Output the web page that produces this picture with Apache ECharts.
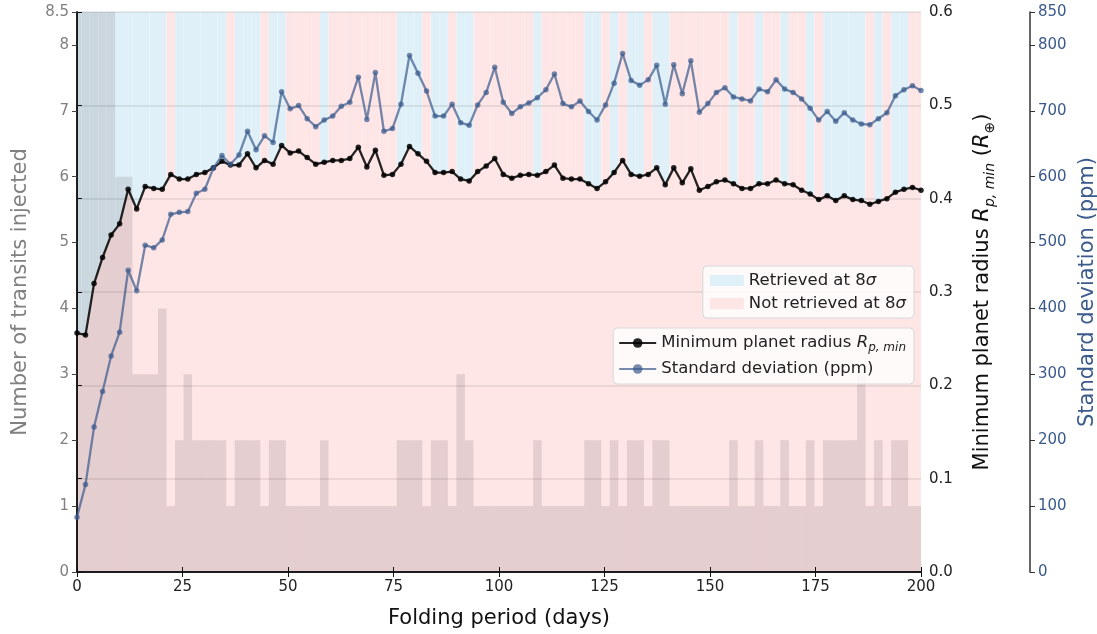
<!DOCTYPE html>
<html>
<head>
<meta charset="utf-8">
<script src="https://cdn.jsdelivr.net/npm/echarts@6/dist/echarts.min.js"></script>
<style>
  html, body { margin: 0; padding: 0; background: #fff; }
  #chart { width: 1097px; height: 634px; }
</style>
</head>
<body>
<div id="chart"></div>
<script>
// folding periods: 100 evenly spaced trial periods from 0 to 200 days
const periods = Array.from({length: 100}, (_, i) => i * 200 / 99);
const binWidth = 200 / 99;

// minimum planet radius (R_earth) per period
const radius = [
  0.256, 0.254, 0.309, 0.337, 0.361, 0.373, 0.410, 0.389, 0.413, 0.411,
  0.410, 0.426, 0.421, 0.421, 0.426, 0.428, 0.433, 0.440, 0.436, 0.436,
  0.448, 0.433, 0.441, 0.437, 0.457, 0.449, 0.451, 0.444, 0.437, 0.439,
  0.441, 0.441, 0.443, 0.455, 0.434, 0.452, 0.425, 0.426, 0.437, 0.456,
  0.448, 0.440, 0.428, 0.428, 0.429, 0.421, 0.419, 0.429, 0.435, 0.443,
  0.426, 0.422, 0.425, 0.426, 0.425, 0.429, 0.436, 0.422, 0.421, 0.421,
  0.416, 0.411, 0.418, 0.428, 0.441, 0.426, 0.424, 0.426, 0.433, 0.415,
  0.433, 0.417, 0.432, 0.409, 0.413, 0.418, 0.420, 0.416, 0.411, 0.411,
  0.416, 0.416, 0.420, 0.416, 0.415, 0.409, 0.405, 0.399, 0.403, 0.398,
  0.403, 0.399, 0.398, 0.394, 0.397, 0.400, 0.407, 0.410, 0.412, 0.409
];

// standard deviation (ppm) per period
const stdDev = [
  83, 133, 220, 274, 328, 364, 458, 427, 496, 492,
  504, 543, 546, 547, 575, 581, 613, 632, 619, 633,
  669, 641, 662, 652, 729, 703, 708, 688, 676, 686,
  692, 707, 713, 751, 687, 758, 669, 673, 710, 784,
  757, 730, 692, 692, 710, 682, 678, 709, 728, 766,
  713, 696, 706, 712, 720, 732, 756, 711, 706, 715,
  699, 686, 709, 742, 787, 746, 739, 747, 769, 710,
  770, 726, 776, 698, 711, 728, 735, 721, 718, 715,
  733, 729, 747, 733, 728, 718, 704, 686, 699, 684,
  697, 686, 680, 679, 688, 697, 723, 732, 738, 731
];

// number of transits injected per period bin (first bins run off the top)
const transits = [
  30, 20, 14, 11, 9, 6, 6, 3, 3, 3,
  4, 1, 2, 3, 2, 2, 2, 2, 1, 2,
  2, 2, 1, 2, 2, 1, 1, 1, 1, 2,
  1, 1, 1, 1, 1, 1, 1, 1, 2, 2,
  2, 1, 2, 2, 1, 3, 2, 1, 1, 1,
  1, 1, 1, 1, 2, 1, 1, 1, 1, 1,
  2, 2, 1, 2, 1, 2, 2, 1, 2, 2,
  1, 1, 1, 1, 1, 1, 1, 2, 1, 1,
  2, 1, 1, 2, 1, 1, 2, 1, 2, 2,
  2, 2, 3, 1, 2, 1, 2, 2, 1, 1
];

// 1 = retrieved at 8 sigma, 0 = not retrieved
const retrieved = [
  1, 1, 1, 1, 1, 1, 1, 1, 1, 1,
  1, 0, 1, 1, 1, 1, 1, 1, 0, 1,
  1, 1, 0, 1, 1, 0, 0, 0, 0, 1,
  0, 0, 0, 0, 0, 0, 0, 0, 1, 1,
  1, 0, 1, 1, 0, 1, 1, 0, 0, 0,
  0, 0, 0, 0, 1, 0, 0, 0, 0, 0,
  1, 1, 0, 1, 0, 1, 1, 0, 1, 1,
  0, 0, 0, 0, 0, 0, 0, 1, 0, 0,
  1, 0, 0, 1, 0, 0, 1, 0, 1, 1,
  1, 1, 1, 0, 1, 0, 1, 1, 0, 0
];

const FONT = 'DejaVu Sans';
const BLUE_BG = '#dff0f8';
const PINK_BG = '#fee5e6';
const STD_COL = '#3b5a8c';
const Y_TOP = 8.5;

const chart = echarts.init(document.getElementById('chart'));

function rectItem(params, api) {
  const p = api.value(0);
  const h = Math.min(api.value(1), Y_TOP);
  const a = api.coord([Math.max(p - binWidth / 2, 0), h]);
  const b = api.coord([Math.min(p + binWidth / 2, 200), 0]);
  return {
    type: 'rect',
    shape: {x: a[0], y: a[1], width: b[0] - a[0], height: b[1] - a[1]},
    style: {fill: api.visual('color')}
  };
}

const retData = [], notData = [];
periods.forEach((p, i) => {
  if (retrieved[i]) retData.push([p, Y_TOP]); else notData.push([p, Y_TOP]);
});

const radiusData = periods.map((p, i) => [p, radius[i]]);
const stdData = periods.map((p, i) => [p, stdDev[i]]);
const histData = periods.map((p, i) => [p, transits[i]]);

const tickStyle = {fontFamily: FONT, fontSize: 15, color: '#222'};

chart.setOption({
  animation: false,
  grid: {left: 77, right: 176, top: 12, bottom: 62, outerBoundsMode: 'none', containLabel: false},
  xAxis: [{
    type: 'value', min: 0, max: 200, interval: 25, position: 'bottom',
    name: 'Folding period (days)', nameLocation: 'middle', nameGap: 36,
    nameTextStyle: {fontFamily: FONT, fontSize: 21, color: '#111'},
    axisLine: {lineStyle: {color: '#111', width: 1.5}},
    axisTick: {length: 5, lineStyle: {color: '#111'}},
    axisLabel: tickStyle,
    splitLine: {show: false}
  }, {
    type: 'value', min: 0, max: 200, interval: 25, position: 'top',
    axisLine: {lineStyle: {color: '#111', width: 1.5}},
    axisTick: {length: 5, lineStyle: {color: '#111'}},
    axisLabel: {show: false},
    splitLine: {show: false}
  }],
  yAxis: [{
    type: 'value', min: 0, max: Y_TOP, interval: 1, position: 'left',
    name: 'Number of transits injected', nameLocation: 'middle', nameGap: 46, nameRotate: 90,
    nameTextStyle: {fontFamily: FONT, fontSize: 21, color: '#808080'},
    axisLine: {show: true, lineStyle: {color: '#111', width: 1.5}},
    axisTick: {show: true, length: 5, lineStyle: {color: '#444'}},
    axisLabel: {fontFamily: FONT, fontSize: 15, color: '#808080'},
    splitLine: {show: false}
  }, {
    type: 'value', min: 0, max: 0.6, interval: 0.1, position: 'right',
    name: 'Minimum planet radius {i|R}{s|p, min} ({i|R}{s|⊕})',
    nameLocation: 'middle', nameGap: 48, nameRotate: 90,
    nameTextStyle: {
      fontFamily: FONT, fontSize: 21, color: '#111', lineHeight: 28,
      rich: {
        i: {fontFamily: FONT, fontSize: 21, fontStyle: 'italic', color: '#111', lineHeight: 28},
        s: {fontFamily: FONT, fontSize: 14, fontStyle: 'italic', color: '#111', lineHeight: 12, verticalAlign: 'bottom'}
      }
    },
    axisLine: {show: true, lineStyle: {color: '#111', width: 1.5}},
    axisTick: {show: true, length: 5, lineStyle: {color: '#111'}},
    axisLabel: Object.assign({formatter: v => v.toFixed(1)}, tickStyle),
    splitLine: {show: true, lineStyle: {color: 'rgba(0,0,0,0.1)', width: 1.5}},
    z: 0
  }, {
    type: 'value', min: 0, max: 850, interval: 100, position: 'right', offset: 109,
    name: 'Standard deviation (ppm)', nameLocation: 'middle', nameGap: 44, nameRotate: 90,
    nameTextStyle: {fontFamily: FONT, fontSize: 21, color: STD_COL},
    axisLine: {show: true, lineStyle: {color: '#333', width: 1.5}},
    axisTick: {show: true, length: 5, lineStyle: {color: '#333'}},
    axisLabel: {fontFamily: FONT, fontSize: 15, color: STD_COL},
    splitLine: {show: false}
  }],
  legend: [{
    data: ['Retrieved at 8σ', 'Not retrieved at 8σ'],
    orient: 'vertical', right: 183, top: 266,
    icon: 'rect', itemWidth: 34, itemHeight: 11, itemGap: 6,
    padding: [6, 8, 6, 7],
    backgroundColor: 'rgba(255,255,255,0.8)', borderColor: '#d8d8d8', borderWidth: 1, borderRadius: 4,
    formatter: n => n.replace('σ', '{i|σ}'),
    textStyle: {
      fontFamily: FONT, fontSize: 16.5, color: '#222',
      rich: {i: {fontFamily: FONT, fontSize: 16.5, fontStyle: 'italic', color: '#222'}}
    }
  }, {
    data: ['Minimum planet radius', 'Standard deviation (ppm)'],
    orient: 'vertical', right: 183, top: 328,
    itemWidth: 37, itemHeight: 12, itemGap: 4,
    padding: [4, 8, 4, 5],
    backgroundColor: 'rgba(255,255,255,0.8)', borderColor: '#d8d8d8', borderWidth: 1, borderRadius: 4,
    formatter: n => n === 'Minimum planet radius' ? 'Minimum planet radius {i|R}{s|p, min}' : n,
    textStyle: {
      fontFamily: FONT, fontSize: 16.5, color: '#222', lineHeight: 22,
      rich: {
        i: {fontFamily: FONT, fontSize: 16.5, fontStyle: 'italic', color: '#222', lineHeight: 22},
        s: {fontFamily: FONT, fontSize: 12, fontStyle: 'italic', color: '#222', lineHeight: 12, verticalAlign: 'bottom'}
      }
    }
  }],
  series: [{
    name: 'Retrieved at 8σ', type: 'custom', renderItem: rectItem,
    xAxisIndex: 0, yAxisIndex: 0, data: retData,
    itemStyle: {color: BLUE_BG}, z: -3, silent: true
  }, {
    name: 'Not retrieved at 8σ', type: 'custom', renderItem: rectItem,
    xAxisIndex: 0, yAxisIndex: 0, data: notData,
    itemStyle: {color: PINK_BG}, z: -3, silent: true
  }, {
    name: 'below radius', type: 'line', xAxisIndex: 0, yAxisIndex: 1,
    data: radiusData, symbol: 'none', lineStyle: {width: 0, opacity: 0},
    areaStyle: {color: PINK_BG, opacity: 1}, z: -2, silent: true
  }, {
    name: 'transits', type: 'custom', renderItem: rectItem,
    xAxisIndex: 0, yAxisIndex: 0, data: histData, clip: true,
    itemStyle: {color: 'rgba(100,90,92,0.16)'}, z: -1, silent: true
  }, {
    name: 'Minimum planet radius', type: 'line', xAxisIndex: 0, yAxisIndex: 1,
    data: radiusData, symbol: 'circle', symbolSize: 5.5, showSymbol: true,
    lineStyle: {color: 'rgba(0,0,0,0.85)', width: 2.3},
    itemStyle: {color: 'rgba(0,0,0,0.85)'}, z: 5
  }, {
    name: 'Standard deviation (ppm)', type: 'line', xAxisIndex: 0, yAxisIndex: 2,
    data: stdData, symbol: 'circle', symbolSize: 5.5, showSymbol: true,
    lineStyle: {color: 'rgba(59,90,140,0.7)', width: 2.3},
    itemStyle: {color: 'rgba(59,90,140,0.7)'}, z: 6
  }]
});
</script>
</body>
</html>
